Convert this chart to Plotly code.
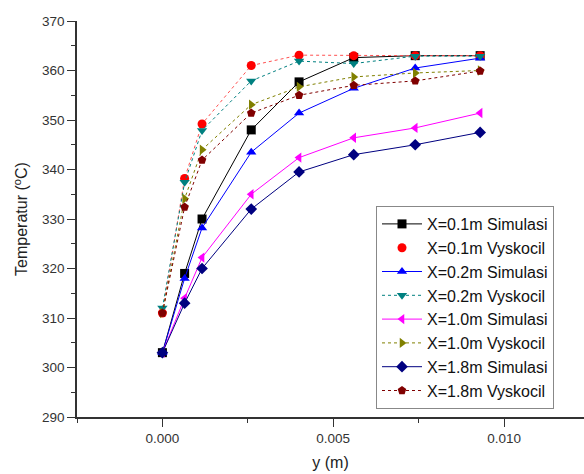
import plotly.graph_objects as go

# Distance from the wall (m)
y_pos = [0.0, 0.00065, 0.00116, 0.0026, 0.0040, 0.0056, 0.0074, 0.0093]

# Temperature profiles (°C)
t_01_sim = [303, 319, 330, 348, 357.7, 362.6, 363, 363]
t_01_vys = [311, 338.2, 349.2, 361, 363.1, 363, 363, 363]
t_02_sim = [303, 318, 328.2, 343.5, 351.4, 356.4, 360.5, 362.5]
t_02_vys = [312, 337.4, 347.9, 357.9, 361.9, 361.4, 362.9, 362.9]
t_10_sim = [303, 314, 322.2, 335, 342.4, 346.4, 348.4, 351.4]
t_10_vys = [311, 334.1, 344, 353.1, 356.7, 358.7, 359.5, 360]
t_18_sim = [303, 313, 320, 332, 339.5, 343, 345, 347.5]
t_18_vys = [311, 332.4, 341.9, 351.4, 355, 357, 357.9, 359.9]

x_ticks = [0.000, 0.005, 0.010]
x_tick_text = ["0.000", "0.005", "0.010"]
y_ticks = [290, 300, 310, 320, 330, 340, 350, 360, 370]

series = [
    ("X=0.1m Simulasi", t_01_sim, "#000000", "square", "solid"),
    ("X=0.1m Vyskocil", t_01_vys, "#ff0000", "circle", None),
    ("X=0.2m Simulasi", t_02_sim, "#0000ff", "triangle-up", "solid"),
    ("X=0.2m Vyskocil", t_02_vys, "#008080", "triangle-down", "dot"),
    ("X=1.0m Simulasi", t_10_sim, "#ff00ff", "triangle-left", "solid"),
    ("X=1.0m Vyskocil", t_10_vys, "#808000", "triangle-right", "dot"),
    ("X=1.8m Simulasi", t_18_sim, "#000080", "diamond", "solid"),
    ("X=1.8m Vyskocil", t_18_vys, "#800000", "pentagon", "dot"),
]

fig = go.Figure()
for name, vals, color, symbol, dash in series:
    if dash is None:
        # connecting dotted line drawn separately so the legend shows the marker only
        fig.add_trace(go.Scatter(
            x=y_pos, y=vals, mode="lines", showlegend=False, hoverinfo="skip",
            line=dict(color="#ff5050", width=1, dash="dot"),
        ))
        fig.add_trace(go.Scatter(
            x=y_pos, y=vals, mode="markers", name=name,
            marker=dict(color=color, symbol=symbol, size=9),
        ))
    else:
        fig.add_trace(go.Scatter(
            x=y_pos, y=vals, mode="lines+markers", name=name,
            line=dict(color=color, width=1, dash=dash),
            marker=dict(color=color, symbol=symbol, size=9),
        ))

axis_font = dict(family="Liberation Sans, Arial, sans-serif", size=13.5, color="#333333")

# plot area spans x 77..584 px and y 21..417 px
fig.update_layout(
    width=584, height=474,
    margin=dict(l=77, r=0, t=21, b=57, autoexpand=False),
    paper_bgcolor="white", plot_bgcolor="white",
    font=dict(family="Liberation Sans, Arial, sans-serif", color="#222222"),
    legend=dict(
        xref="paper", yref="paper",
        x=(376 - 77) / 507, y=(417 - 206) / 396, xanchor="left", yanchor="top",
        bgcolor="white", bordercolor="#888888", borderwidth=1,
        font=dict(size=16, color="#111111"),
        tracegroupgap=0, itemwidth=40,
    ),
    xaxis=dict(
        range=[-0.0025, 0.01234],
        tickvals=x_ticks, ticktext=x_tick_text,
        ticks="outside", ticklen=8, tickwidth=1.2, tickcolor="#333333",
        minor=dict(dtick=0.0025, tick0=0, ticks="outside", ticklen=4, tickcolor="#333333"),
        showline=True, linecolor="#333333", linewidth=1.5,
        showgrid=False, zeroline=False,
        tickfont=axis_font,
        title=dict(text="y (m)", font=dict(size=16, color="#222222"), standoff=12),
    ),
    yaxis=dict(
        range=[290, 370],
        tickvals=y_ticks,
        ticks="outside", ticklen=8, tickwidth=1.2, tickcolor="#333333",
        minor=dict(dtick=5, tick0=290, ticks="outside", ticklen=4, tickcolor="#333333"),
        showline=True, linecolor="#333333", linewidth=1.5,
        showgrid=False, zeroline=False,
        tickfont=axis_font,
        title=dict(text="Temperatur (<sup>o</sup>C)", font=dict(size=16, color="#222222"), standoff=10),
    ),
)

fig.write_html("out.html")
